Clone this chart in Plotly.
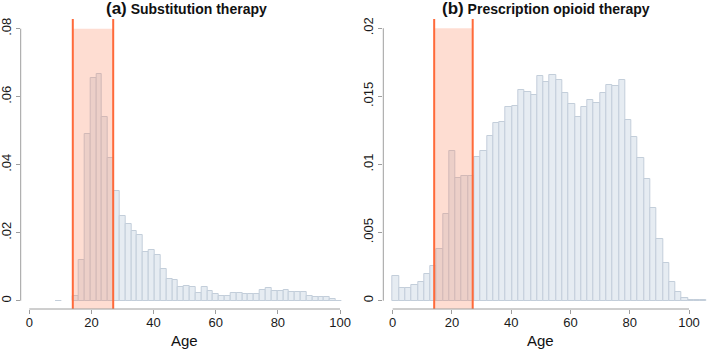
import plotly.graph_objects as go

# ---------------- data ----------------
# Panel (a) Substitution therapy: histogram density per age bin
sub_bin_start = 8.4
sub_bin_width = 1.88
sub_density = [0.00005, None, None, 0.0014, 0.0120, 0.0490, 0.0654, 0.0666, 0.0541, 0.0419,
               0.0323, 0.0249, 0.0226, 0.0205, 0.0192, 0.0143, 0.0150, 0.0133, 0.0092, 0.0064,
               0.0060, 0.0040, 0.0043, 0.0039, 0.0023, 0.0039, 0.0029, 0.0021, 0.0014, 0.0015,
               0.0024, 0.0023, 0.0021, 0.0021, 0.0021, 0.0031, 0.0038, 0.0029, 0.0029, 0.0031,
               0.0026, 0.0027, 0.0025, 0.0014, 0.0011, 0.0011, 0.0010, 0.0004, 0.00005, None]

# Panel (b) Prescription opioid therapy
pre_bin_start = 0.0
pre_bin_width = 2.12
pre_density = [0.00182, 0.00091, 0.00096, 0.00118, 0.00135, 0.00194, 0.00257, 0.00380, 0.00637, 0.01096,
               0.00900, 0.00917, 0.00917, 0.01055, 0.01102, 0.01211, 0.01302, 0.01314, 0.01423, 0.01427,
               0.01549, 0.01531, 0.01509, 0.01648, 0.01606, 0.01656, 0.01620, 0.01524, 0.01445, 0.01351,
               0.01420, 0.01475, 0.01453, 0.01525, 0.01584, 0.01576, 0.01618, 0.01323, 0.01203, 0.01045,
               0.00893, 0.00684, 0.00451, 0.00280, 0.00135, 0.00063, 0.00019, 0.00006, 0.00005, 0.00005]

age_band = [14, 27]

x_ticks = [0, 20, 40, 60, 80, 100]
x_ticktext = ["0", "20", "40", "60", "80", "100"]
sub_yticks = [0, 0.02, 0.04, 0.06, 0.08]
sub_yticktext = ["0", ".02", ".04", ".06", ".08"]
pre_yticks = [0, 0.005, 0.01, 0.015, 0.02]
pre_yticktext = ["0", ".005", ".01", ".015", ".02"]

titles = ["<b><span style='font-size:17px'>(a)</span> Substitution therapy</b>",
          "<b><span style='font-size:17px'>(b)</span> Prescription opioid therapy</b>"]
x_title = "Age"

# ---------------- styling ----------------
W, H = 709, 349
FONT = "Liberation Sans, Arial, Helvetica, sans-serif"
BAR_FILL = "#E6ECF2"
BAR_LINE = "#C3CEDA"
AXIS = "#9E9E9E"
RED = "#FF6A3A"
BAND = "rgba(252,130,90,0.27)"

def centers(start, width, n):
    return [start + (i + 0.5) * width for i in range(n)]

fig = go.Figure()
fig.add_trace(go.Bar(x=centers(sub_bin_start, sub_bin_width, len(sub_density)), y=sub_density,
                     width=sub_bin_width, marker=dict(color=BAR_FILL, line=dict(color=BAR_LINE, width=1)),
                     xaxis="x", yaxis="y", showlegend=False, hoverinfo="x+y"))
fig.add_trace(go.Bar(x=centers(pre_bin_start, pre_bin_width, len(pre_density)), y=pre_density,
                     width=pre_bin_width, marker=dict(color=BAR_FILL, line=dict(color=BAR_LINE, width=1)),
                     xaxis="x2", yaxis="y2", showlegend=False, hoverinfo="x+y"))

y_dom = [1 - 309 / H, 1 - 19 / H]
sub_yrange = [-0.00244, 0.08285]
pre_yrange = [-0.00061, 0.02068]

common_x = dict(tickvals=x_ticks, ticktext=x_ticktext, ticks="outside", ticklen=4, tickwidth=1,
                tickcolor=AXIS, showgrid=False, zeroline=False, showline=False, automargin=False,
                ticklabelstandoff=-3,
                tickfont=dict(size=13, color="#1a1a1a", family=FONT))
common_y = dict(ticks="outside", ticklen=4, tickwidth=1, tickcolor=AXIS, showgrid=False,
                zeroline=False, showline=False, automargin=False, tickangle=-90,
                ticklabelstandoff=0,
                tickfont=dict(size=13, color="#1a1a1a", family=FONT))

fig.update_layout(
    width=W, height=H, margin=dict(l=0, r=0, t=0, b=0), autosize=False,
    paper_bgcolor="white", plot_bgcolor="white", bargap=0,
    font=dict(family=FONT),
    xaxis=dict(domain=[20.7 / W, 352 / W], range=[-2.77, 103.86], anchor="y", **common_x),
    yaxis=dict(domain=y_dom, range=sub_yrange, anchor="x", tickvals=sub_yticks,
               ticktext=sub_yticktext, **common_y),
    xaxis2=dict(domain=[383.3 / W, 1.0], range=[-3.17, 106.75], anchor="y2", **common_x),
    yaxis2=dict(domain=y_dom, range=pre_yrange, anchor="x2", tickvals=pre_yticks,
                ticktext=pre_yticktext, **common_y),
)

shapes = []
for xr, yr, yrange, ytop in [("x", "y", sub_yrange, sub_yticks[-1]), ("x2", "y2", pre_yrange, pre_yticks[-1])]:
    # shaded age band
    shapes.append(dict(type="rect", xref=xr, yref=yr, x0=age_band[0], x1=age_band[1],
                       y0=yrange[0], y1=ytop, fillcolor=BAND, line=dict(width=0), layer="above"))
    # vertical band limits
    for a in age_band:
        shapes.append(dict(type="line", xref=xr, yref=yr + " domain", x0=a, x1=a, y0=0, y1=1,
                           line=dict(color=RED, width=2), layer="above"))
    # axis lines limited to tick range
    shapes.append(dict(type="line", xref=xr, yref=yr + " domain", x0=x_ticks[0], x1=x_ticks[-1],
                       y0=0, y1=0, line=dict(color=AXIS, width=1)))
    shapes.append(dict(type="line", xref=xr + " domain", yref=yr, x0=0, x1=0, y0=0, y1=ytop,
                       line=dict(color=AXIS, width=1)))
fig.update_layout(shapes=shapes)

annotations = []
for xr, t in [("x", titles[0]), ("x2", titles[1])]:
    annotations.append(dict(xref=xr + " domain", yref="paper", x=0.5, y=1 - 9 / H, text=t,
                            showarrow=False, xanchor="center", yanchor="middle",
                            font=dict(size=14, color="#111111", family=FONT)))
    annotations.append(dict(xref=xr, yref="paper", x=50, y=1 - 340 / H, text=x_title,
                            showarrow=False, xanchor="center", yanchor="middle",
                            font=dict(size=15, color="#111111", family=FONT)))
fig.update_layout(annotations=annotations)

fig.write_html("out.html", config={"displayModeBar": False},
               post_script="document.body.style.margin='0';document.body.style.overflow='hidden';")
